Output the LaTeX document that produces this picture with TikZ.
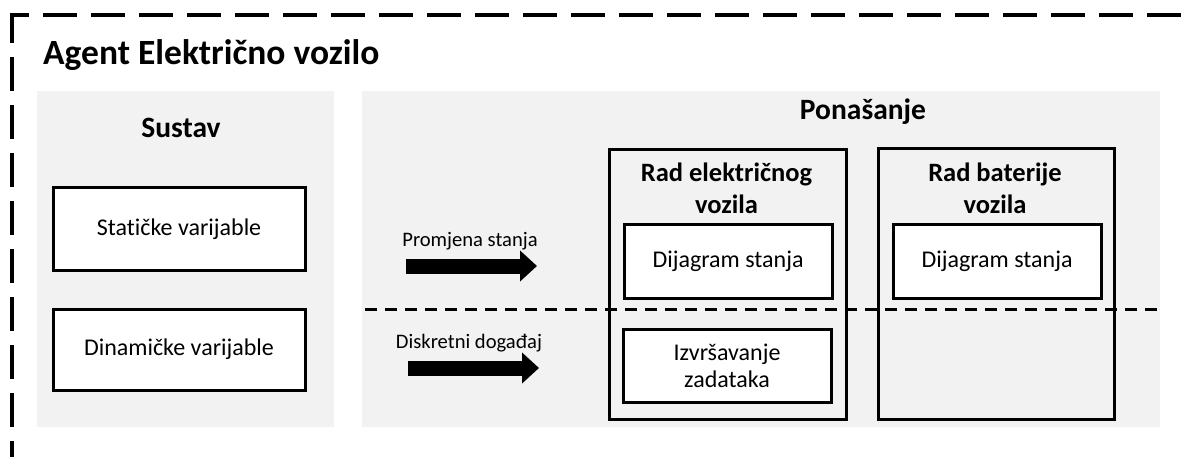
\documentclass[tikz,border=0pt]{standalone}
\usepackage{fontspec}
\setmainfont{Carlito}[Ligatures=NoCommon]
\usetikzlibrary{positioning,arrows.meta}

\definecolor{panelgray}{HTML}{F2F2F2}

\tikzset{
  panel/.style={fill=panelgray, draw=none, anchor=north west, inner sep=0pt},
  box/.style={draw, line width=3pt, fill=white, inner sep=0pt, align=center,
    font=\fontsize{24}{27}\selectfont},
  group/.style={draw, line width=3pt, inner sep=0pt, anchor=north west},
  head/.style={font=\fontsize{29.5}{34}\selectfont\bfseries, anchor=base},
  subhead/.style={font=\fontsize{26.5}{32}\selectfont\bfseries, align=center},
  flowlbl/.style={font=\fontsize{20.6}{24}\selectfont, anchor=base},
  fatarrow/.style={line width=15pt, -{Triangle[length=17pt,width=30pt]}},
  outline/.style={line width=4pt, dash pattern=on 34pt off 14pt},
  divide/.style={line width=3pt, dash pattern=on 12pt off 8pt}
}

\begin{document}
\begin{tikzpicture}[x=1pt,y=-1pt]
  \useasboundingbox (0,0) rectangle (1183,457);

  % outer agent frame (only top and left edges show)
  \coordinate (corner) at (12,15);
  \coordinate (frameB) at (12,470);
  \coordinate (frameR) at (1200,15);
  \draw[outline, dash phase=4pt] (12,13) -- (frameB);
  \draw[outline, dash phase=17pt] (corner) -- (frameR);

  \node[anchor=base west, inner sep=0pt, font=\fontsize{35.5}{42}\selectfont\bfseries] (agent) at (43,65) {Agent Električno vozilo};

  % panels
  \node[panel, minimum width=297pt, minimum height=336pt] (sustav) at (37,91) {};
  \node[panel, minimum width=798pt, minimum height=336pt] (ponasanje) at (362,91) {};

  \node[head] (sustavlbl) at (181,138) {Sustav};
  \node[head] (ponasanjelbl) at (863,120) {Ponašanje};

  % system variables
  \node[box, minimum width=252pt, minimum height=82pt] (staticke) at (179,229) {Statičke varijable};
  \node[box, minimum width=252pt, minimum height=81pt] (dinamicke) at (179,349.5) {Dinamičke varijable};

  % separator between state and event part
  \coordinate (divL) at (365,309);
  \coordinate (divR) at (1162,309);
  \draw[divide] (divL) -- (divR);

  % behaviour groups
  \node[group, minimum width=237pt, minimum height=270pt] (radev) at (608,148) {};
  \node[group, minimum width=236pt, minimum height=271pt] (radbat) at (877,147) {};

  \node[subhead] (radevlbl) at (726.5,188) {Rad električnog\\vozila};
  \node[subhead] (radbatlbl) at (995,188) {Rad baterije\\vozila};

  \node[box, minimum width=208pt, minimum height=73pt] (evdijagram) at (728,261.5) {Dijagram stanja};
  \node[box, minimum width=208pt, minimum height=73pt] (batdijagram) at (997,261.5) {Dijagram stanja};
  \node[box, minimum width=208pt, minimum height=73pt] (izvrsavanje) at (727,366) {Izvršavanje\\zadataka};

  % inputs
  \node[flowlbl] (promjena) at (470,247) {Promjena stanja};
  \coordinate (p1s) at (406,266);
  \coordinate (p1e) at (537,266);
  \draw[fatarrow] (p1s) -- (p1e);

  \node[flowlbl] (dogadaj) at (469,348) {Diskretni događaj};
  \coordinate (p2s) at (408,368);
  \coordinate (p2e) at (539,368);
  \draw[fatarrow] (p2s) -- (p2e);
\end{tikzpicture}
\end{document}
